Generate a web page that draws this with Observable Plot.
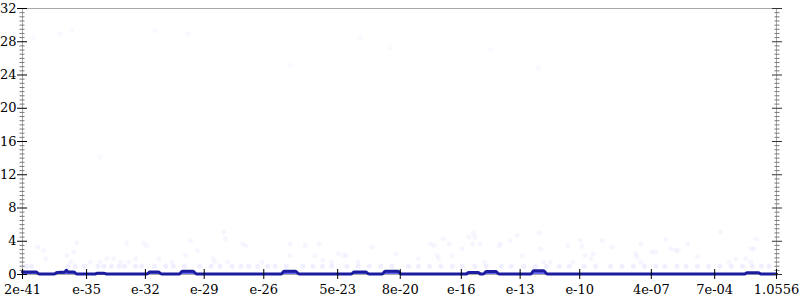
<!DOCTYPE html>
<html><head><meta charset="utf-8">
<script src="https://cdn.jsdelivr.net/npm/d3@7"></script>
<script src="https://cdn.jsdelivr.net/npm/@observablehq/plot@0.6"></script>
<style>body{margin:0;background:#fff}svg{font-family:"DejaVu Serif",serif}</style>
</head><body><div id="chart"></div>
<script>
// x is a rank position along the sorted sample axis (0..1000)
const xTickRanks = [0, 85, 163, 241, 320, 418, 501, 582, 660, 739, 834, 918, 1000];
const xTickLabels = ["2e-41","e-35","e-32","e-29","e-26","5e-23","8e-20","e-16","e-13","e-10","4e-07","7e-04","1.0556"];
const yMajor = [0,4,8,12,16,20,24,28,32];
const yMinor = d3.range(0, 32.01, 0.5).filter(v => v % 4 !== 0);

const lineRank  = [0,18,22,42,46,56,58,61,68,72,96,99,108,112,165,169,180,185,208,212,226,231,343,347,362,367,436,440,455,460,477,481,498,502,588,592,604,608,611,615,628,632,674,678,691,696,957,961,976,980,1000];
const lineValue = [0.3,0.3,0.05,0.05,0.25,0.3,0.5,0.3,0.3,0.05,0.05,0.15,0.15,0.05,0.05,0.3,0.3,0.05,0.05,0.4,0.4,0.05,0.05,0.4,0.4,0.05,0.05,0.3,0.3,0.05,0.05,0.4,0.4,0.05,0.05,0.25,0.25,0.05,0.05,0.35,0.35,0.05,0.05,0.45,0.45,0.05,0.05,0.2,0.2,0.05,0.05];

const bandRank = [5,12,60,70,82,100,108,118,128,135,150,158,175,190,200,215,235,250,262,278,290,300,312,325,335,350,372,385,398,410,430,445,460,475,490,512,525,540,555,570,583,600,615,635,648,665,680,695,712,725,745,760,780,795,810,825,840,852,868,880,895,910,925,940,955,968,980,990];
const scatterRank  = [20,28,31,59,64,68,72,90,103,112,121,130,138,141,150,161,165,181,198,216,223,232,267,269,292,296,253,255,272,318,355,355,375,393,388,398,410,419,425,429,464,495,445,541,546,558,566,550,552,525,570,583,592,598,600,607,597,634,647,656,632,663,685,687,691,700,723,730,740,742,746,754,757,613,769,782,813,815,820,820,835,840,853,860,866,870,882,895,926,937,946,959,966,970,973,966];
const scatterValue = [3.3,2.9,1.9,2.3,1.5,2.7,3.8,1.5,1.5,1.9,1.9,1.5,3.8,1.5,1.9,3.8,3.4,1.9,1.5,2.3,4.1,2.9,5.1,4.3,3.7,3.4,1.9,1.5,1.5,1.5,3.7,2.3,3.5,3.7,2.3,1.7,1.5,2.5,2.3,2.3,3.3,2.5,1.5,3.7,3.5,4.3,3.7,2.3,1.9,1.9,2.3,3.1,4.5,5.0,4.5,3.7,3.7,3.7,4.1,4.7,3.4,2.3,5.0,3.1,1.5,1.5,3.5,1.5,4.1,3.4,2.3,1.9,2.5,1.5,4.1,3.3,2.5,2.1,3.7,1.5,2.7,2.7,4.2,3.1,2.9,2.9,3.7,2.2,5.1,1.5,1.9,1.9,3.1,3.1,4.3,1.5];
const outlierRank  = [15,50,65,176,220,103,355,448,488,621,684];
const outlierValue = [28.5,28.9,29.4,29.3,28.9,14.1,25.2,28.5,27.3,27.0,24.9];

const line = lineRank.map((r, i) => ({r, v: lineValue[i]}));
const band = bandRank.map(r => ({r, v: 1}));
const dots = scatterRank.map((r, i) => ({r, v: scatterValue[i]}));
const outliers = outlierRank.map((r, i) => ({r, v: outlierValue[i]}));
const blank = () => "";

const chart = Plot.plot({
  width: 800, height: 300,
  marginLeft: 22, marginRight: 24, marginTop: 8, marginBottom: 26,
  style: {fontFamily: "DejaVu Serif, serif", fontSize: "13px", color: "#000", background: "#fff", overflow: "visible"},
  x: {type: "linear", domain: [0, 1000], axis: null, label: null},
  y: {domain: [0, 32], axis: null, label: null},
  marks: [
    Plot.frame({stroke: "#aaa"}),
    Plot.dot(band, {x: "r", y: "v", r: 2.5, fill: "#6060ff", fillOpacity: 0.1}),
    Plot.dot(dots, {x: "r", y: "v", r: 2.5, fill: "#6060ff", fillOpacity: 0.06}),
    Plot.dot(outliers, {x: "r", y: "v", r: 2.5, fill: "#6060ff", fillOpacity: 0.035}),
    Plot.areaY(line, {x: "r", y: "v", fill: "#3535ee", fillOpacity: 0.75, curve: "monotone-x"}),
    Plot.lineY(line, {x: "r", y: "v", stroke: "#1c1ca0", strokeWidth: 3, curve: "monotone-x"}),
    // left axis
    Plot.axisY({anchor: "left", ticks: yMinor, tickSize: 5, dx: 2.5, tickFormat: blank, stroke: "#777", label: null}),
    Plot.axisY({anchor: "left", ticks: yMajor, tickSize: 10, dx: 5, tickFormat: blank, stroke: "#000", label: null}),
    Plot.axisY({anchor: "left", ticks: yMajor, tickSize: 0, tickPadding: 6, fill: "#000", fontSize: 13, label: null}),
    // right axis
    Plot.axisY({anchor: "right", ticks: yMinor, tickSize: 5, dx: -2.5, tickFormat: blank, stroke: "#777", label: null}),
    Plot.axisY({anchor: "right", ticks: yMajor, tickSize: 10, dx: -5, tickFormat: blank, stroke: "#333", label: null}),
    // bottom axis
    Plot.axisX({anchor: "bottom", ticks: xTickRanks, tickSize: 10, dy: -5, tickFormat: blank, stroke: "#000", label: null}),
    Plot.axisX({anchor: "bottom", ticks: xTickRanks, tickSize: 0, tickPadding: 10, fill: "#000", fontSize: 13, label: null,
      tickFormat: d => xTickLabels[xTickRanks.indexOf(d)]})
  ]
});
document.getElementById("chart").appendChild(chart);
</script></body></html>
